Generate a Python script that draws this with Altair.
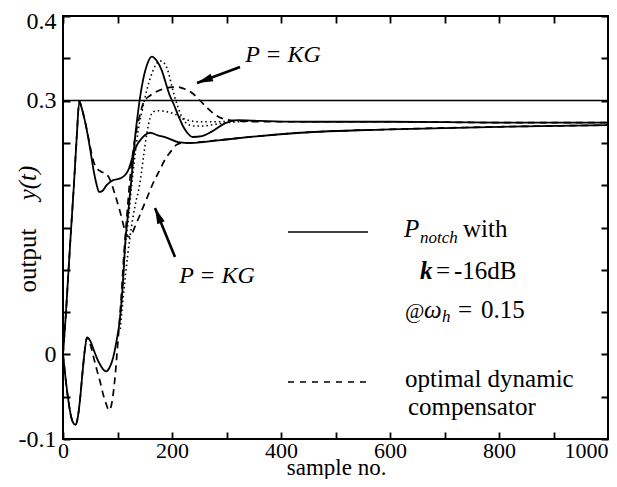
import altair as alt
import pandas as pd

FONT = "Liberation Serif, Times New Roman, Times, serif"

# ---- axes ----
x_ticks = [0, 100, 200, 300, 400, 500, 600, 700, 800, 900, 1000]
x_labels = [0, 200, 400, 600, 800, 1000]
y_ticks = [-0.1, -0.05, 0.0, 0.05, 0.1, 0.15, 0.2, 0.25, 0.3, 0.35, 0.4]
y_labels = [-0.1, 0, 0.3, 0.4]
ref_level = [0.3]

# ---- group 1 (response dips first): P_notch (solid) ----
a_notch_x = [0, 5, 10, 15, 20, 23, 27, 31, 36, 40, 44, 50, 56, 62, 68, 74, 79, 85, 92, 98,
             105, 110, 114, 120, 126, 132, 138, 145, 154, 163, 172, 181, 188, 196, 203,
             211, 220, 228, 238, 255, 272, 297, 321, 360, 450, 600, 800, 1000]
a_notch_y = [0, -0.03, -0.055, -0.074, -0.082, -0.083, -0.075, -0.055, -0.02, 0.005, 0.02,
             0.016, 0.006, -0.004, -0.012, -0.018, -0.02, -0.016, -0.004, 0.015,
             0.045, 0.085, 0.13, 0.17, 0.21, 0.255, 0.288, 0.318, 0.342, 0.352, 0.347,
             0.336, 0.322, 0.306, 0.296, 0.283, 0.27, 0.262, 0.257, 0.258, 0.263, 0.273,
             0.277, 0.276, 0.275, 0.275, 0.274, 0.274]

# ---- group 1: optimal dynamic compensator (dashed) ----
a_opt_x = [0, 5, 10, 15, 20, 23, 27, 31, 36, 40, 44, 50, 56, 62, 68, 74, 80, 84, 88, 95,
           101, 106, 112, 118, 124, 132, 140, 148, 160, 170, 180, 190, 200, 211, 222,
           237, 250, 265, 280, 297, 320, 360, 450, 600, 800, 1000]
a_opt_y = [0, -0.03, -0.055, -0.074, -0.082, -0.083, -0.075, -0.055, -0.02, 0.005, 0.02,
           0.012, -0.003, -0.018, -0.032, -0.048, -0.06, -0.066, -0.062, -0.03,
           0.017, 0.06, 0.12, 0.17, 0.215, 0.255, 0.28, 0.298, 0.306, 0.31, 0.313, 0.315,
           0.316, 0.316, 0.314, 0.309, 0.301, 0.291, 0.283, 0.278, 0.276, 0.275, 0.275,
           0.275, 0.274, 0.274]

# ---- group 2 (response rises first): P_notch (solid) ----
b_notch_x = [0, 5, 10, 15, 20, 25, 30, 34, 38, 44, 50, 56, 62, 66, 72, 80, 92, 105, 114,
             120, 126, 132, 138, 144, 150, 160, 174, 191, 211, 236, 257, 273, 300, 343,
             435, 600, 800, 1000]
b_notch_y = [0, 0.045, 0.098, 0.15, 0.2, 0.255, 0.299, 0.292, 0.282, 0.264, 0.242, 0.218,
             0.2, 0.192, 0.193, 0.2, 0.206, 0.208, 0.212, 0.218, 0.23, 0.242, 0.25, 0.255,
             0.259, 0.262, 0.259, 0.256, 0.251, 0.25, 0.251, 0.252, 0.254, 0.257, 0.262,
             0.266, 0.269, 0.271]

# ---- group 2: optimal dynamic compensator (dashed) ----
b_opt_x = [0, 5, 10, 15, 20, 25, 30, 34, 38, 44, 50, 56, 62, 70, 80, 86, 95, 105, 114, 118,
           122, 126, 132, 140, 147, 156, 165, 176, 187, 198, 209, 220, 232, 250, 280, 343,
           435, 600, 800, 1000]
b_opt_y = [0, 0.045, 0.098, 0.15, 0.2, 0.255, 0.299, 0.292, 0.282, 0.265, 0.245, 0.228,
           0.22, 0.216, 0.213, 0.207, 0.19, 0.168, 0.146, 0.14, 0.139, 0.142, 0.151, 0.163,
           0.174, 0.188, 0.202, 0.216, 0.23, 0.24, 0.248, 0.25, 0.25, 0.251, 0.253, 0.257,
           0.262, 0.266, 0.269, 0.271]

# ---- P = KG responses (dotted) ----
kg1_x = [105, 110, 114, 120, 126, 132, 138, 146, 154, 162, 170, 178, 186, 194, 200, 208,
         218, 229, 240, 255, 270, 290, 320, 360]
kg1_y = [0.045, 0.085, 0.125, 0.16, 0.2, 0.235, 0.265, 0.29, 0.313, 0.33, 0.342, 0.347,
         0.344, 0.332, 0.316, 0.298, 0.281, 0.272, 0.27, 0.27, 0.271, 0.273, 0.275, 0.276]
kg2_x = [105, 114, 123, 132, 141, 148, 154, 160, 166, 175, 190, 205, 220, 235, 250, 280, 320]
kg2_y = [0.03, 0.09, 0.139, 0.175, 0.202, 0.235, 0.262, 0.28, 0.287, 0.288, 0.287, 0.284,
         0.279, 0.276, 0.275, 0.275, 0.276]

X_MIN, X_MAX = 0, 1000
Y_MIN, Y_MAX = -0.1, 0.4
W, H = 545, 423
TICK = 7
xs = alt.Scale(domain=[X_MIN, X_MAX], nice=False, zero=False)
ys = alt.Scale(domain=[Y_MIN, Y_MAX], nice=False, zero=False)

x_label_test = " || ".join(f"datum.value == {v}" for v in x_labels)
y_label_test = " || ".join(f"abs(datum.value - ({v})) < 1e-9" for v in y_labels)

# inward ticks on both edges are drawn with the axis grid and a dash pattern
x_axis = alt.Axis(
    values=x_ticks, title=None, ticks=False, tickSize=0, domain=False,
    grid=True, gridColor="black", gridOpacity=1, gridWidth=1.8,
    gridDash=[TICK, H - 2 * TICK, TICK, 2000],
    labelFont=FONT, labelFontSize=22, labelPadding=1, labelColor="black",
    labelFlush=False, labelBaseline="top",
    labelExpr=f"({x_label_test}) ? toString(datum.value) : ''",
    labelAlign={"condition": {"test": "datum.value == 1000", "value": "right"},
                "value": "center"},
)
y_axis = alt.Axis(
    values=y_ticks, title=None, ticks=False, tickSize=0, domain=False,
    grid=True, gridColor="black", gridOpacity=1, gridWidth=1.8,
    gridDash=[TICK, W - 2 * TICK, TICK, 2000],
    labelFont=FONT, labelFontSize=24, labelPadding=7, labelColor="black",
    labelFlush=False, labelBaseline="middle",
    labelExpr=f"({y_label_test}) ? toString(round(datum.value * 100) / 100) : ''",
    labelOffset={"condition": {"test": "datum.value > 0.39", "value": 5}, "value": 0},
)


def X():
    return alt.X("x:Q", scale=xs, axis=x_axis)


def Y():
    return alt.Y("y:Q", scale=ys, axis=y_axis)


def curve(xv, yv, dash=None, width=1.8):
    kw = dict(color="black", strokeWidth=width, interpolate="monotone")
    if dash is not None:
        kw["strokeDash"] = dash
    df = pd.DataFrame({"x": xv, "y": yv})
    return alt.Chart(df).mark_line(**kw).encode(x=X(), y=Y())


def label(text, x, y, size=25, style="normal", weight="normal", align="left",
          angle=0, baseline="alphabetic"):
    df = pd.DataFrame({"x": [x], "y": [y], "t": [text]})
    return alt.Chart(df).mark_text(
        font=FONT, fontSize=size, fontStyle=style, fontWeight=weight, align=align,
        baseline=baseline, angle=angle, color="black").encode(
        x=X(), y=Y(), text="t:N")


def arrow(tail, tip, angle):
    df = pd.DataFrame({"x": [tail[0], tip[0]], "y": [tail[1], tip[1]]})
    shaft = alt.Chart(df).mark_line(color="black", strokeWidth=2.6).encode(x=X(), y=Y())
    head = alt.Chart(pd.DataFrame({"x": [tip[0]], "y": [tip[1]]})).mark_point(
        shape="M0,0L0.5,2L-0.5,2Z", filled=True, color="black", opacity=1,
        size=256, angle=angle).encode(x=X(), y=Y())
    return [shaft, head]


ref = alt.Chart(pd.DataFrame({"y": ref_level})).mark_rule(
    color="black", strokeWidth=1.5).encode(y=Y())

DASH = [7, 5]
DOT = [1.5, 3]

layers = [
    curve(a_notch_x, a_notch_y),
    ref,
    curve(a_opt_x, a_opt_y, dash=DASH, width=1.7),
    curve(b_notch_x, b_notch_y),
    curve(b_opt_x, b_opt_y, dash=DASH, width=1.7),
    curve(kg1_x, kg1_y, dash=DOT, width=1.6),
    curve(kg2_x, kg2_y, dash=DOT, width=1.6),
    # legend samples
    curve([412.8, 559.6], [0.1447, 0.1447], width=1.6),
    curve([412.8, 559.6], [-0.0326, -0.0326], dash=[6, 6], width=1.6),
]
layers += arrow((324.8, 0.3397), (245.9, 0.3208), 249.6)
layers += arrow((205.5, 0.1151), (168.8, 0.1730), 337.8)

layers += [
    label("P = KG", 403.7, 0.3456, size=24, style="italic", align="center"),
    label("P = KG", 282.6, 0.0844, size=24, style="italic", align="center"),
    label("P", 625.7, 0.1388, style="italic"),
    label("notch", 655.0, 0.1317, size=17, style="italic"),
    label("with", 733.9, 0.1388),
    label("k", 655.0, 0.0891, style="italic", weight="bold"),
    label("=", 684.4, 0.0891),
    label("-16dB", 717.4, 0.0891),
    label("@", 627.5, 0.043, size=21),
    label("ω", 662.4, 0.043, style="italic"),
    label("h", 695.5, 0.0383, size=17, style="italic"),
    label("=", 724.8, 0.043),
    label("0.15", 767.0, 0.043),
    label("optimal dynamic", 627.5, -0.0385),
    label("compensator", 633.0, -0.0716),
    label("sample no.", 502.0, -0.1425, size=23, align="center"),
    label("output", -49.5, 0.111, size=25, align="center", angle=270),
    label("y(t)", -49.5, 0.2026, size=25, style="italic", align="center", angle=270),
]

chart = alt.layer(*layers).properties(
    width=W, height=H,
    padding={"left": 55, "top": 8, "right": 1, "bottom": 40},
    autosize=alt.AutoSizeParams(type="none"),
    background="white",
).configure_view(stroke="black", strokeWidth=2)

chart.save("out.html", embed_options={"renderer": "svg", "actions": False})
